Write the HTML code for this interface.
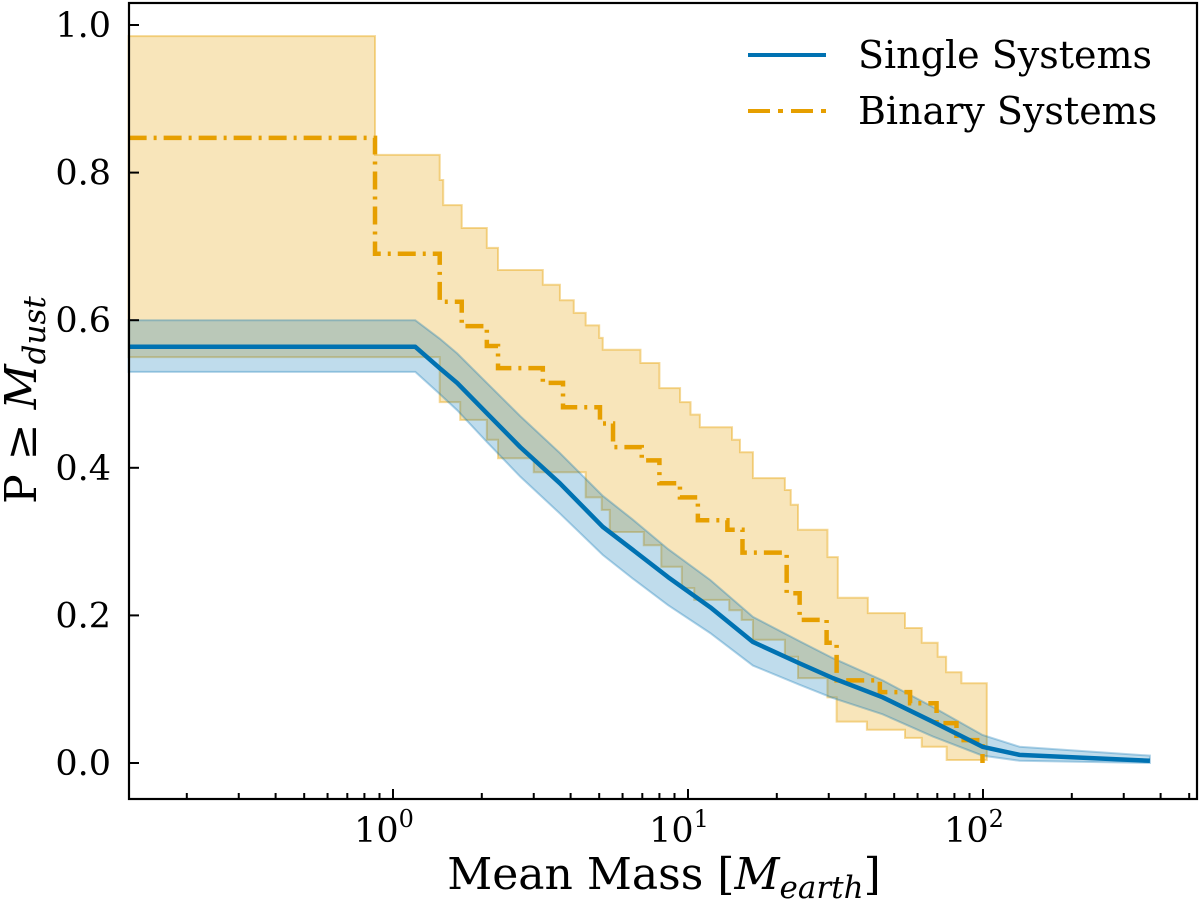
<!DOCTYPE html>
<html><head><meta charset="utf-8"><style>
body{margin:0;background:#fff}
svg{display:block}
text{font-family:"DejaVu Serif","Liberation Serif",serif;fill:#000}
</style></head><body>
<svg id="chart" width="1200" height="904" viewBox="0 0 1200 904">
<g id="bands"></g><g id="lines"></g>
<rect x="129" y="3" width="1068" height="796" fill="none" stroke="#000" stroke-width="2.2"/>
<g id="axes"></g>
<g>
<line x1="748" y1="55" x2="826" y2="55" stroke="#0072B2" stroke-width="4"/>
<text x="858" y="68" font-size="38">Single Systems</text>
<line x1="748" y1="111" x2="826" y2="111" stroke="#E69F00" stroke-width="4" stroke-dasharray="22,8,5,8"/>
<text x="858" y="124" font-size="38">Binary Systems</text>
</g>
<text x="664" y="889" font-size="44" text-anchor="middle">Mean Mass [<tspan font-style="italic">M</tspan><tspan font-style="italic" font-size="31" dy="9">earth</tspan><tspan dy="-9">]</tspan></text>
<text transform="translate(36,400) rotate(-90)" font-size="44" text-anchor="middle">P ≥ <tspan font-style="italic">M</tspan><tspan font-style="italic" font-size="31" dy="9">dust</tspan></text>
</svg>
<script>
const singleMass=[0.127,1.19,1.44,1.65,2.08,2.70,3.68,5.14,6.49,8.55,11.9,16.6,23.9,31.0,45.7,67.5,99.6,133,368];
const singleVal=[0.564,0.564,0.535,0.515,0.474,0.428,0.379,0.320,0.289,0.252,0.211,0.164,0.135,0.115,0.089,0.056,0.022,0.011,0.003];
const singleUpper=[0.600,0.600,0.575,0.555,0.515,0.470,0.420,0.362,0.330,0.290,0.248,0.198,0.165,0.142,0.112,0.076,0.038,0.022,0.010];
const singleLower=[0.530,0.530,0.500,0.478,0.435,0.388,0.338,0.282,0.250,0.214,0.176,0.132,0.106,0.088,0.066,0.036,0.010,0.003,0.000];
const binMass=[0.127,0.869,1.44,1.71,2.08,2.27,3.22,3.77,5.03,5.57,6.97,8.0,9.39,10.8,13.6,15.3,21.6,23.9,29.5,31.9,44.7,56.6,69.6,81.3,99.6];
const binVal=[0.847,0.69,0.625,0.592,0.565,0.535,0.515,0.482,0.46,0.428,0.41,0.379,0.36,0.329,0.316,0.285,0.23,0.194,0.163,0.112,0.096,0.081,0.054,0.031,0.0];
const binEnd=99.6;
const upMass=[0.127,0.869,1.44,1.48,1.71,2.08,2.27,3.22,3.68,4.1,4.5,5.0,5.14,6.9,8.0,9.4,10.2,10.97,14.1,15.0,16.6,21.3,22.3,23.6,29.7,32.2,40.7,54.4,62.0,70.2,75,84.5];
const upVal=[0.985,0.824,0.790,0.756,0.725,0.698,0.668,0.648,0.627,0.610,0.593,0.576,0.560,0.542,0.508,0.489,0.472,0.455,0.438,0.421,0.386,0.370,0.350,0.316,0.279,0.224,0.203,0.183,0.163,0.144,0.123,0.108];
const loMass=[0.127,1.44,1.69,2.08,2.27,3.0,4.5,5.1,5.43,7.08,8.12,9.53,10.5,13.8,15.2,16.6,21.3,23.6,29.7,31.9,40.4,54.4,62,75.3];
const loVal=[0.550,0.489,0.465,0.438,0.413,0.394,0.360,0.343,0.313,0.295,0.266,0.237,0.221,0.207,0.194,0.167,0.144,0.115,0.089,0.056,0.045,0.034,0.022,0.004];
const bandEnd=103;
const xTicks=[1,10,100];
const yTicks=[0,0.2,0.4,0.6,0.8,1.0];
const yTickLabels=["0.0","0.2","0.4","0.6","0.8","1.0"];

const NS="http://www.w3.org/2000/svg";
const X=m=>393+295*Math.log10(m);
const Y=v=>763-738*v;
function mk(tag,attrs,parent){const e=document.createElementNS(NS,tag);for(const k in attrs)e.setAttribute(k,attrs[k]);parent.appendChild(e);return e;}
function stepPts(ms,vs,end){let p=[];for(let i=0;i<ms.length;i++){const x0=X(ms[i]);const x1=X(i<ms.length-1?ms[i+1]:end);p.push([x0,Y(vs[i])],[x1,Y(vs[i])]);}return p;}
const bands=document.getElementById('bands'),lines=document.getElementById('lines'),axes=document.getElementById('axes');
const up=stepPts(upMass,upVal,bandEnd),lo=stepPts(loMass,loVal,bandEnd).reverse();
const ob=mk('polygon',{points:up.concat(lo).map(p=>p.join(',')).join(' '),fill:'rgba(230,159,0,0.27)',stroke:'rgba(230,159,0,0.4)','stroke-width':2},bands);


let bp=singleMass.map((m,i)=>[X(m),Y(singleUpper[i])]).concat(singleMass.map((m,i)=>[X(m),Y(singleLower[i])]).reverse());
const bb=mk('polygon',{points:bp.map(p=>p.join(',')).join(' '),fill:'rgba(0,114,178,0.25)',stroke:'rgba(0,114,178,0.3)','stroke-width':2},bands);


const bl=mk('polyline',{points:stepPts(binMass,binVal,binEnd).map(p=>p.join(',')).join(' '),fill:'none',stroke:'#E69F00','stroke-width':4.5,'stroke-dasharray':'18,7,3,7'},lines);


const sl=mk('polyline',{points:singleMass.map((m,i)=>X(m)+','+Y(singleVal[i])).join(' '),fill:'none',stroke:'#0072B2','stroke-width':4.5,'stroke-linejoin':'round'},lines);


for(let d=-1;d<=2;d++){for(let k=1;k<=9;k++){const m=k*Math.pow(10,d);const x=X(m);if(x<130||x>1196)continue;const L=k===1?10:6;
 const t=mk('line',{x1:x,y1:799,x2:x,y2:799-L,stroke:'#000','stroke-width':2},axes);
 
 }}
xTicks.forEach((m,i)=>{const t=mk('text',{x:X(m)-9,y:842,'font-size':35,'text-anchor':'middle'},axes);t.textContent='10';const s=mk('tspan',{'font-size':24,dy:-15},t);s.textContent=String(i);
 
 });
yTicks.forEach((v,i)=>{const y=Y(v);const l=mk('line',{x1:129,y1:y,x2:139,y2:y,stroke:'#000','stroke-width':2},axes);
 
 
 const t=mk('text',{x:111,y:y+12,'font-size':35,'text-anchor':'end'},axes);t.textContent=yTickLabels[i];
 
 });
</script>
</body></html>
